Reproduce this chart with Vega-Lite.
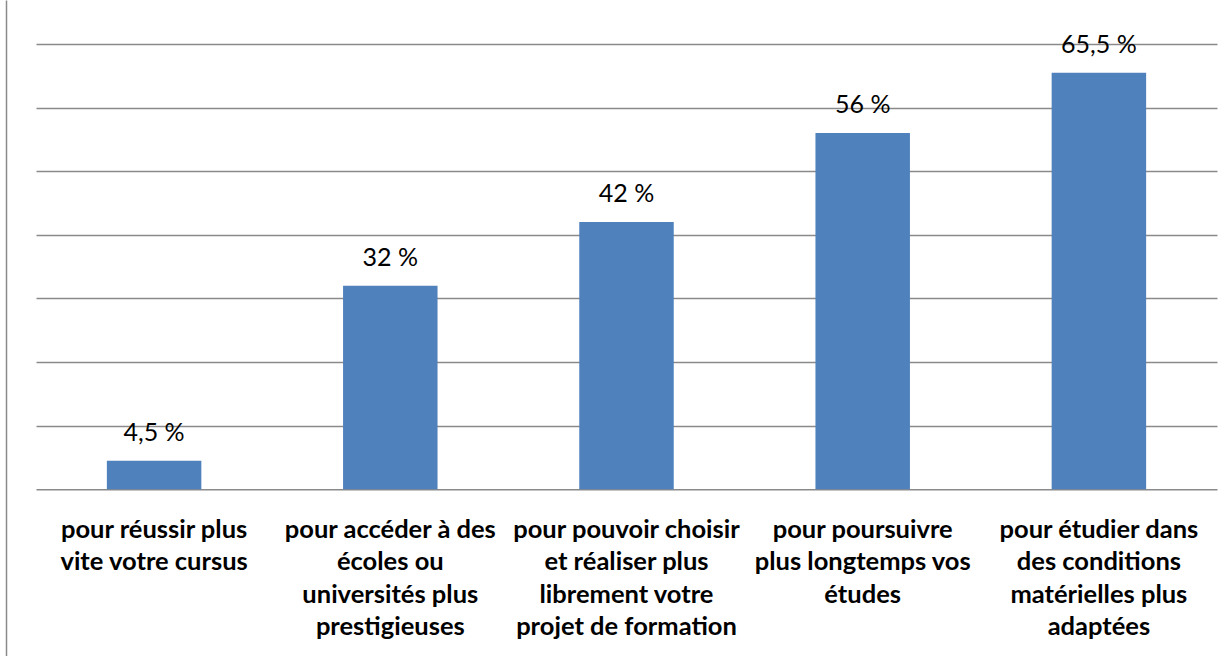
{
  "$schema": "https://vega.github.io/schema/vega-lite/v6.json",
  "width": 1181,
  "height": 656,
  "autosize": "none",
  "padding": {"left": 36, "top": 0, "right": 14, "bottom": 0},
  "background": "white",
  "config": {"view": {"stroke": null}, "font": "Lato"},
  "data": {
    "values": [
      {"cat": "pour réussir plus\nvite votre cursus", "value": 4.5},
      {"cat": "pour accéder à des\nécoles ou\nuniversités plus\nprestigieuses", "value": 32},
      {"cat": "pour pouvoir choisir\net réaliser plus\nlibrement votre\nprojet de formation", "value": 42},
      {"cat": "pour poursuivre\nplus longtemps vos\nétudes", "value": 56},
      {"cat": "pour étudier dans\ndes conditions\nmatérielles plus\nadaptées", "value": 65.5}
    ]
  },
  "transform": [
    {"calculate": "replace(toString(datum.value), '.', ',') + ' %'", "as": "label"}
  ],
  "encoding": {
    "x": {
      "field": "cat",
      "type": "nominal",
      "sort": null,
      "scale": {"paddingInner": 0.6, "paddingOuter": 0.3},
      "axis": {
        "title": null,
        "orient": "bottom",
        "offset": -166.7,
        "domainColor": "#8A8A8A",
        "domainWidth": 1.5,
        "ticks": false,
        "tickSize": 0,
        "labelAngle": 0,
        "labelFont": "Lato",
        "labelFontWeight": "bold",
        "labelFontSize": 25.5,
        "labelColor": "#000000",
        "labelPadding": 48,
        "labelBaseline": "alphabetic",
        "labelLineHeight": 32.5,
        "labelLimit": 1000,
        "labelOverlap": false,
        "labelBound": false,
        "labelExpr": "split(datum.value, '\\n')"
      }
    },
    "y": {
      "field": "value",
      "type": "quantitative",
      "scale": {"domain": [-26.21, 76.92], "nice": false, "zero": false},
      "axis": {
        "title": null,
        "orient": "left",
        "offset": 30,
        "values": [10, 20, 30, 40, 50, 60, 70],
        "grid": true,
        "gridColor": "#8A8A8A",
        "gridWidth": 1.5,
        "domain": true,
        "domainColor": "#8A8A8A",
        "domainWidth": 1.5,
        "ticks": false,
        "labels": false
      }
    }
  },
  "layer": [
    {
      "mark": {"type": "bar", "color": "#4F81BD"},
      "encoding": {"y2": {"datum": 0}}
    },
    {
      "mark": {"type": "text", "font": "Lato", "fontSize": 25, "color": "#000000", "baseline": "alphabetic", "dy": -20},
      "encoding": {"text": {"field": "label"}}
    }
  ]
}
